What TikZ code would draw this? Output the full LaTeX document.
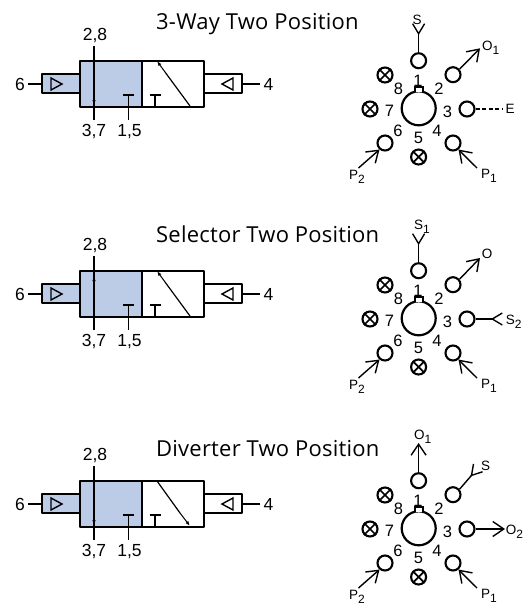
\documentclass[tikz,border=0pt]{standalone}
\usepackage{fontspec}
\setmainfont{Liberation Sans}
\newfontfamily\titlefont[LetterSpace=1.0]{Open Sans}
\usetikzlibrary{arrows.meta,calc}
\definecolor{valveblue}{RGB}{188,203,230}
\newcommand{\sbs}[1]{\raisebox{-4.5pt}{\fontsize{12}{14}\selectfont #1}}
\tikzset{
  x=1pt,y=-1pt,
  box/.style={line width=2pt,line join=round},
  thinline/.style={line width=1.4pt},
  lab/.style={inner sep=0pt,font=\fontsize{17.5}{20}\selectfont},
  num/.style={inner sep=0pt,font=\fontsize{16.5}{19}\selectfont},
  plab/.style={inner sep=0pt,anchor=base west,font=\fontsize{13.5}{15}\selectfont},
  titlelab/.style={inner sep=0pt,anchor=base west,font=\titlefont\fontsize{22}{25}\selectfont},
  port/.style={circle,draw,line width=2.1pt,minimum size=15pt,inner sep=0pt},
  hub/.style={circle,draw,line width=2.2pt,minimum size=34pt,inner sep=0pt},
  barb/.style={-{Straight Barb[length=11pt,width=15pt,line width=1.4pt]},thinline},
  fork/.style={-{Straight Barb[reversed,length=10pt,width=12pt,line width=1.4pt]},thinline},
  smalltip/.style={-{Latex[length=5pt,width=3.5pt]},line width=1pt},
  plain/.style={line width=1.2pt},
}
\newcommand{\valvebody}[3]{%
  \begin{scope}[shift={(0,#2)}]
    \filldraw[box,fill=valveblue] (42,74) rectangle (80,93);
    \filldraw[box,fill=white] (203.5,74) rectangle (241.5,93);
    \filldraw[box,fill=valveblue] (80,60.5) rectangle (142,106.5);
    \draw[box] (142,60.5) rectangle (203.5,106.5);
    \draw[line width=1.4pt,line join=miter] (51,78) -- (62,84) -- (51,90) -- cycle;
    \draw[line width=1.4pt,line join=miter] (233,78) -- (222,84) -- (233,90) -- cycle;
    \node[lab] (#1six) at (20,84) {6};
    \node[lab] (#1four) at (268.5,84) {4};
    \coordinate (#1lft) at (42,84);
    \coordinate (#1rgt) at (241.5,84);
    \draw[thinline] (#1six.east) ++(3,0) -- (#1lft);
    \draw[thinline] (#1four.west) ++(-3,0) -- (#1rgt);
    \node[lab,anchor=base] (#1a) at (95,40) {2,8};
    \node[lab,anchor=base] (#1b) at (94,136.5) {3,7};
    \node[lab,anchor=base] (#1c) at (129.5,136.5) {1,5};
    \draw[thinline] (128.5,95) -- (128.5,120);
    \draw[thinline] (123,95) -- (134,95);
    \draw[thinline] (155,95) -- (155,106);
    \draw[thinline] (149.5,95) -- (160.5,95);
    #3
  \end{scope}}
\newcommand{\portset}[2]{%
  \begin{scope}[shift={(0,#2)}]
    \node[hub] (#1hub) at (418.7,108.3) {};
    \filldraw[line width=1.9pt,fill=white] ($(#1hub)+(-4,-16.6)$) -- ++(0,-4.6) -- ++(8,0) -- ++(0,4.6);
    \node[port] (#1p1) at (418.6,60.7) {};
    \node[port] (#1p2) at (453,74.7) {};
    \node[port] (#1p3) at (467,109) {};
    \node[port] (#1p4) at (453,143) {};
    \node[port] (#1p5) at (418.6,157) {};
    \node[port] (#1p6) at (385,143) {};
    \node[port] (#1p7) at (370,109) {};
    \node[port] (#1p8) at (385,75) {};
    \foreach \q in {p5,p7,p8}{
      \draw[line width=1.7pt] (#1\q.45) -- (#1\q.225);
      \draw[line width=1.7pt] (#1\q.135) -- (#1\q.315);
    }
    \node[num] (#1n1) at (418,80.5) {1};
    \node[num] (#1n2) at (439,89) {2};
    \node[num] (#1n3) at (447.5,112) {3};
    \node[num] (#1n4) at (437,130.5) {4};
    \node[num] (#1n5) at (418.5,138) {5};
    \node[num] (#1n6) at (398,130.5) {6};
    \node[num] (#1n7) at (389.5,110.5) {7};
    \node[num] (#1n8) at (398.5,89) {8};
    \coordinate (#1pone) at (477,168);
    \coordinate (#1ptwo) at (358.5,168);
    \draw[barb] (#1pone) -- (#1p4.-50);
    \draw[barb] (#1ptwo) -- (#1p6.230);
    \node[plab] (#1lone) at (481,178) {P\sbs{1}};
    \node[plab] (#1ltwo) at (349,179) {P\sbs{2}};
  \end{scope}}
\begin{document}
\begin{tikzpicture}
\useasboundingbox (0,0) rectangle (529,606);
\node[titlelab] (t1) at (156,29) {3-Way Two Position};
\node[titlelab] (t2) at (156,242.5) {Selector Two Position};
\node[titlelab] (t3) at (156,456) {Diverter Two Position};
\valvebody{a}{0}{%
  \draw[thinline] (94,46) -- (94,120);
  \draw[smalltip] (94,90) -- (94,105);
  \draw[plain] (190,106) -- (165,72);
  \draw[smalltip] (165,72) -- (157,61);}
\valvebody{b}{210}{%
  \draw[thinline] (94,46) -- (94,120);
  \draw[smalltip] (94,82) -- (94,66);
  \draw[plain] (190,106) -- (165,72);
  \draw[smalltip] (165,72) -- (157,61);}
\valvebody{c}{420}{%
  \draw[thinline] (94,46) -- (94,120);
  \draw[smalltip] (94,90) -- (94,105);
  \draw[plain] (157,61) -- (180,93);
  \draw[smalltip] (180,93) -- (190,106);}
\portset{a}{0}
\portset{b}{210}
\portset{c}{420}
% first set
\coordinate (as) at (418.6,23);
\coordinate (ao) at (480,48.3);
\coordinate (ae) at (503,109);
\draw[fork] (ap1.north) -- (as);
\draw[barb] (ap2.40) -- (ao);
\draw[thinline,dash pattern=on 4pt off 2.6pt] (ap3.east) -- (ae);
\node[plab,anchor=center] (als) at (417,20) {S};
\node[plab] (alo) at (482,50) {O\sbs{1}};
\node[plab,anchor=center] (ale) at (510,109) {E};
% second set
\coordinate (bs) at (418.6,233);
\coordinate (bo) at (480,258);
\coordinate (bt) at (503,319);
\draw[fork] (bp1.north) -- (bs);
\draw[barb] (bp2.40) -- (bo);
\draw[fork] (bp3.east) -- (bt);
\node[plab] (bls) at (414,229) {S\sbs{1}};
\node[plab,anchor=center] (blo) at (487,254) {O};
\node[plab] (blt) at (505.7,324) {S\sbs{2}};
% third set
\coordinate (co) at (418.6,443);
\coordinate (cs) at (478.5,467.3);
\coordinate (ct) at (505,529);
\draw[barb] (cp1.north) -- (co);
\draw[fork] (cp2.40) -- (cs);
\draw[barb] (cp3.east) -- (ct);
\node[plab] (clo) at (414,439) {O\sbs{1}};
\node[plab,anchor=center] (cls) at (485.7,465.7) {S};
\node[plab] (clt) at (505.7,534) {O\sbs{2}};
\end{tikzpicture}
\end{document}
